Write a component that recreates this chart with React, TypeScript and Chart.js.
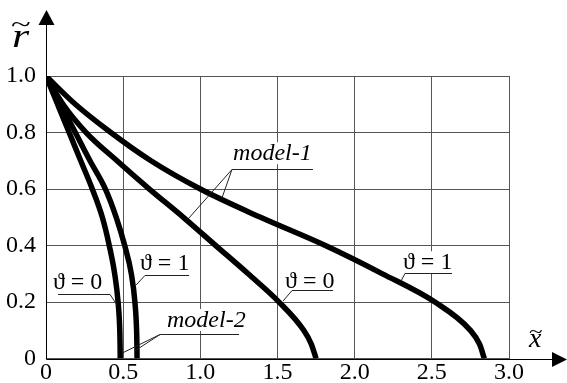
import React, { useEffect, useRef } from "react";
import { Chart, registerables } from "chart.js";

Chart.register(...registerables);

// r-levels (shared y values) for all four curves
const rLevels = [1, 0.9, 0.8, 0.7, 0.6, 0.5, 0.4, 0.3, 0.2, 0.1, 0.05, 0];
// x~ values of each curve at those r-levels
const model1Theta1X = [0, 0.19, 0.42, 0.68, 1.0, 1.39, 1.81, 2.18, 2.52, 2.75, 2.81, 2.84];
const model1Theta0X = [0, 0.11, 0.26, 0.46, 0.67, 0.89, 1.1, 1.31, 1.51, 1.67, 1.72, 1.75];
const model2Theta1X = [0, 0.095, 0.19, 0.285, 0.385, 0.455, 0.51, 0.553, 0.576, 0.587, 0.589, 0.59];
const model2Theta0X = [0, 0.075, 0.15, 0.225, 0.3, 0.365, 0.41, 0.445, 0.467, 0.478, 0.48, 0.481];

const xTickLabels = ["0", "0.5", "1.0", "1.5", "2.0", "2.5", "3.0"];
const yTickLabels = ["0", "0.2", "0.4", "0.6", "0.8", "1.0"];

// annotation labels (data coordinates)
const annotations = [
  { text: "model-1", italic: true, x: 1.212, y: 0.702, ul: [1.205, 1.73, 0.67], leaders: [[1.14, 0.568], [0.914, 0.49]] },
  { text: "\u03D1 = 0", italic: false, x: 1.549, y: 0.249, ul: [1.594, 1.86, 0.242], leaders: [[1.536, 0.2035]] },
  { text: "\u03D1 = 1", italic: false, x: 2.313, y: 0.316, ul: [2.326, 2.631, 0.302], leaders: [[2.3, 0.274]] },
  { text: "\u03D1 = 0", italic: false, x: 0.045, y: 0.246, ul: [0.078, 0.415, 0.228], leaders: [[0.46, 0.19]], ulRightAnchor: true },
  { text: "\u03D1 = 1", italic: false, x: 0.609, y: 0.312, ul: [0.641, 0.927, 0.295], leaders: [[0.583, 0.26]] },
  { text: "model-2", italic: true, x: 0.784, y: 0.112, ul: [0.739, 1.251, 0.088], leaders: [[0.577, 0.028], [0.499, 0.021]] },
];

const SERIF = "'Times New Roman', 'Liberation Serif', 'DejaVu Serif', serif";
const FONT_PX = 24;

const makePoints = (xs: number[]) => xs.map((x, i) => ({ x, y: rLevels[i] }));

const labelFont = (a: any) => `${a.italic ? "italic " : ""}${FONT_PX}px ${SERIF}`;

const annotPlugin = {
  id: "annot",
  beforeDatasetsDraw(chart: any) {
    const ctx = chart.ctx;
    const xs = chart.scales.x;
    const ys = chart.scales.y;
    ctx.save();
    ctx.fillStyle = "#ffffff";
    for (const a of annotations) {
      ctx.font = labelFont(a);
      const w = ctx.measureText(a.text).width;
      const px = xs.getPixelForValue(a.x);
      const py = ys.getPixelForValue(a.y);
      ctx.fillRect(px - 2, py - 18, w + 4, 22);
    }
    ctx.restore();
  },
  afterDraw(chart: any) {
    const ctx = chart.ctx;
    const xs = chart.scales.x;
    const ys = chart.scales.y;
    const area = chart.chartArea;
    ctx.save();
    ctx.fillStyle = "#000";
    ctx.textBaseline = "alphabetic";
    ctx.textAlign = "left";
    for (const a of annotations) {
      ctx.font = labelFont(a);
      ctx.fillText(a.text, xs.getPixelForValue(a.x), ys.getPixelForValue(a.y));
      ctx.strokeStyle = "#222";
      ctx.lineWidth = 1;
      const uy = Math.round(ys.getPixelForValue(a.ul[2])) + 0.5;
      const ux1 = xs.getPixelForValue(a.ul[0]);
      const ux2 = xs.getPixelForValue(a.ul[1]);
      ctx.beginPath();
      ctx.moveTo(ux1, uy);
      ctx.lineTo(ux2, uy);
      const ax = a.ulRightAnchor ? ux2 : ux1;
      for (const l of a.leaders) {
        ctx.moveTo(ax, uy);
        ctx.lineTo(xs.getPixelForValue(l[0]), ys.getPixelForValue(l[1]));
      }
      ctx.stroke();
    }
    // axes with arrows
    const x0 = Math.round(area.left) + 0.5;
    const y0 = Math.round(area.bottom) + 0.5;
    const W = chart.width;
    ctx.strokeStyle = "#000";
    ctx.lineWidth = 1;
    ctx.beginPath();
    ctx.moveTo(x0, y0);
    ctx.lineTo(x0, 24);
    ctx.moveTo(x0, y0);
    ctx.lineTo(W - 14, y0);
    ctx.stroke();
    ctx.fillStyle = "#000";
    ctx.beginPath();
    ctx.moveTo(x0, 10);
    ctx.lineTo(x0 - 8, 25);
    ctx.lineTo(x0 + 8, 25);
    ctx.closePath();
    ctx.fill();
    ctx.beginPath();
    ctx.moveTo(W, y0);
    ctx.lineTo(W - 15, y0 - 7.5);
    ctx.lineTo(W - 15, y0 + 7.5);
    ctx.closePath();
    ctx.fill();
    // axis titles: r~ and x~
    ctx.font = `italic 34px ${SERIF}`;
    ctx.save();
    ctx.translate(12, 47);
    ctx.scale(1.3, 1);
    ctx.fillText("r", 0, 0);
    ctx.restore();
    ctx.save();
    ctx.font = `28px ${SERIF}`;
    ctx.translate(11, 32);
    ctx.scale(1.3, 0.8);
    ctx.fillText("~", 0, 0);
    ctx.restore();
    ctx.font = `italic 28px ${SERIF}`;
    ctx.fillText("x", 529, 347);
    ctx.save();
    ctx.font = `24px ${SERIF}`;
    ctx.translate(529, 338);
    ctx.scale(1.05, 0.8);
    ctx.fillText("~", 0, 0);
    ctx.restore();
    ctx.restore();
  },
};

export default function App() {
  const ref = useRef<HTMLCanvasElement | null>(null);
  useEffect(() => {
    if (!ref.current) return;
    const lineStyle = {
      borderColor: "#000",
      borderWidth: 5.5,
      pointRadius: 0,
      cubicInterpolationMode: "monotone" as const,
      fill: false,
      borderCapStyle: "butt" as const,
      borderJoinStyle: "round" as const,
    };
    const chart = new Chart(ref.current, {
      type: "line",
      data: {
        datasets: [
          { label: "model-1 \u03D1 = 1", data: makePoints(model1Theta1X), ...lineStyle },
          { label: "model-1 \u03D1 = 0", data: makePoints(model1Theta0X), ...lineStyle },
          { label: "model-2 \u03D1 = 1", data: makePoints(model2Theta1X), ...lineStyle },
          { label: "model-2 \u03D1 = 0", data: makePoints(model2Theta0X), ...lineStyle },
        ],
      },
      options: {
        animation: false,
        responsive: false,
        devicePixelRatio: 1,
        layout: { padding: { top: 76, right: 58, left: 0, bottom: 0 } },
        plugins: { legend: { display: false }, tooltip: { enabled: false } },
        scales: {
          x: {
            type: "linear",
            min: 0,
            max: 3,
            ticks: {
              stepSize: 0.5,
              padding: 0,
              color: "#000",
              font: { family: SERIF, size: FONT_PX },
              maxRotation: 0,
              autoSkip: false,
              callback: (v: any) => xTickLabels[Math.round(Number(v) / 0.5)] ?? "",
            },
            grid: { color: "#555", lineWidth: 1, drawTicks: false },
            border: { display: false },
            afterFit: (s: any) => {
              s.height = 22;
            },
          },
          y: {
            type: "linear",
            min: 0,
            max: 1,
            ticks: {
              stepSize: 0.2,
              padding: 10,
              color: "#000",
              font: { family: SERIF, size: FONT_PX },
              callback: (v: any) => yTickLabels[Math.round(Number(v) / 0.2)] ?? "",
            },
            grid: { color: "#555", lineWidth: 1, drawTicks: false },
            border: { display: false },
            afterFit: (s: any) => {
              s.width = 46;
            },
          },
        },
      },
      plugins: [annotPlugin],
    });
    return () => chart.destroy();
  }, []);
  return (
    <div style={{ position: "fixed", left: 0, top: 0, width: 567, height: 383, background: "#fff" }}>
      <canvas ref={ref} width={567} height={383} style={{ display: "block" }} />
    </div>
  );
}
